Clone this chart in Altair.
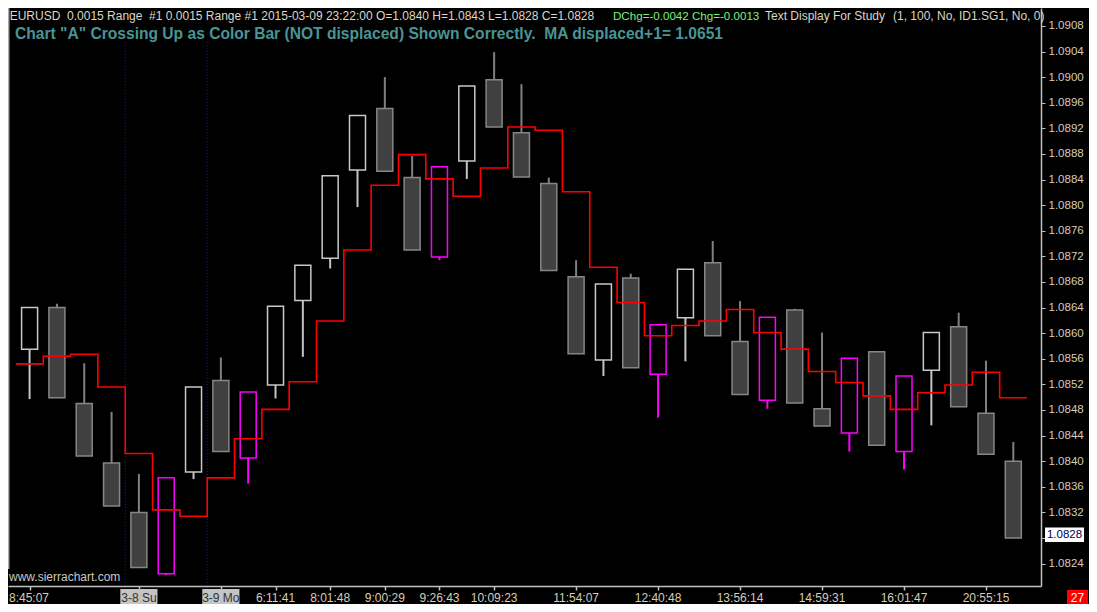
import altair as alt
import pandas as pd

# ---------------- data ----------------
opens = [1.08575, 1.08640, 1.08490, 1.08397, 1.08320, 1.08224, 1.08383, 1.08526, 1.08405, 1.08519,
         1.08651, 1.08717, 1.08855, 1.08951, 1.08843, 1.08719, 1.08869, 1.08996, 1.08913, 1.08834,
         1.08688, 1.08558, 1.08686, 1.08536, 1.08624, 1.08710, 1.08587, 1.08495, 1.08636, 1.08482,
         1.08444, 1.08571, 1.08415, 1.08542, 1.08610, 1.08475, 1.08400]
highs = [1.08641, 1.08646, 1.08553, 1.08477, 1.08380, 1.08374, 1.08516, 1.08562, 1.08508, 1.08642,
         1.08706, 1.08846, 1.08940, 1.09000, 1.08877, 1.08860, 1.08986, 1.09039, 1.08989, 1.08843,
         1.08714, 1.08677, 1.08693, 1.08613, 1.08700, 1.08744, 1.08650, 1.08625, 1.08638, 1.08601,
         1.08561, 1.08571, 1.08533, 1.08601, 1.08632, 1.08557, 1.08430]
lows = [1.08497, 1.08499, 1.08408, 1.08330, 1.08234, 1.08222, 1.08372, 1.08415, 1.08365, 1.08498,
        1.08563, 1.08701, 1.08797, 1.08853, 1.08730, 1.08714, 1.08841, 1.08922, 1.08844, 1.08698,
        1.08568, 1.08533, 1.08546, 1.08468, 1.08556, 1.08596, 1.08504, 1.08482, 1.08491, 1.08455,
        1.08415, 1.08425, 1.08387, 1.08456, 1.08485, 1.08411, 1.08280]
closes = [1.08640, 1.08499, 1.08408, 1.08330, 1.08234, 1.08374, 1.08516, 1.08415, 1.08508, 1.08642,
          1.08706, 1.08846, 1.08940, 1.08853, 1.08730, 1.08860, 1.08986, 1.08922, 1.08844, 1.08698,
          1.08568, 1.08677, 1.08546, 1.08613, 1.08700, 1.08596, 1.08504, 1.08625, 1.08491, 1.08455,
          1.08561, 1.08425, 1.08533, 1.08601, 1.08485, 1.08411, 1.08280]
ma_vals = [1.08552, 1.08564, 1.08567, 1.08516, 1.08412, 1.08324, 1.08314, 1.08374, 1.08435, 1.08481,
           1.08524, 1.08619, 1.08730, 1.08831, 1.08879, 1.08841, 1.08814, 1.08858, 1.08922, 1.08917,
           1.08821, 1.08703, 1.08648, 1.08596, 1.08612, 1.08619, 1.08637, 1.08601, 1.08575, 1.08540,
           1.08523, 1.08502, 1.08481, 1.08507, 1.08519, 1.08539, 1.08499]
cross_up = [5, 8, 15, 23, 27, 30, 32]
day_breaks = [3.5, 6.5]

tick_pos = [0, 4, 7, 9, 11, 13, 15, 17, 20, 23, 26, 29, 32, 35]
tick_labels = ["8:45:07", "3-8 Su", "3-9 Mo", "6:11:41", "8:01:48", "9:00:29", "9:26:43",
               "10:09:23", "11:54:07", "12:40:48", "13:56:14", "14:59:31", "16:01:47", "20:55:15"]
day_labels = ["3-8 Su", "3-9 Mo"]
price_ticks = [1.0824, 1.0828, 1.0832, 1.0836, 1.0840, 1.0844, 1.0848, 1.0852, 1.0856, 1.0860,
               1.0864, 1.0868, 1.0872, 1.0876, 1.0880, 1.0884, 1.0888, 1.0892, 1.0896, 1.0900,
               1.0904, 1.0908]
last_price = 1.0828

NB = "\u00a0"
header1 = "EURUSD" + NB + " 0.0015 Range" + NB + " #1 0.0015 Range #1 2015-03-09 23:22:00 O=1.0840 H=1.0843 L=1.0828 C=1.0828"
header1_green = "DChg=-0.0042 Chg=-0.0013"
header1_study = "Text Display For Study"
header1_args = "(1, 100, No, ID1.SG1, No, 0)"
header2 = 'Chart "A" Crossing Up as Color Bar (NOT displaced) Shown Correctly.' + NB + ' MA displaced+1= 1.0651'
last_price_label = "1.0828"
bar_count_label = "27"
watermark = "www.sierrachart.com"

# ---------------- tables ----------------
n = len(opens)
kinds = []
for i in range(n):
    if i in cross_up:
        kinds.append("cross")
    elif closes[i] > opens[i]:
        kinds.append("up")
    else:
        kinds.append("down")
bars = pd.DataFrame({"i": list(range(n)), "open": opens, "high": highs, "low": lows,
                     "close": closes, "kind": kinds})
ma_df = pd.DataFrame({"xm": [i - 0.5 for i in range(n)] + [n - 0.5],
                      "ma": ma_vals + [ma_vals[-1]]})
ticks_df = pd.DataFrame({"pos": tick_pos, "label": tick_labels})
breaks_df = pd.DataFrame({"b": day_breaks})
one = pd.DataFrame({"k": [0]})

# ---------------- layout ----------------
W, H = 1033, 578
FONT = "Liberation Sans"
TAN = "#d8ccb8"
AXC = "#c0c0c0"

XS = alt.Scale(domain=[-0.607, 36.83], nice=False, zero=False)
YS = alt.Scale(domain=[1.08205, 1.09108], nice=False, zero=False)
X_AXIS = alt.Axis(values=tick_pos, labels=False, tickSize=4, title=None, grid=False,
                  domainColor=AXC, tickColor=AXC, domainWidth=1.5, tickWidth=1.5, zindex=1)
Y_AXIS = alt.Axis(orient="right", values=price_ticks, format=".4f", title=None, grid=False,
                  labelExpr=f"abs(datum.value - {last_price}) < 0.00001 ? '' : datum.label",
                  labelColor=TAN, labelFont=FONT, labelFontSize=11.5, tickSize=4, labelPadding=3,
                  domainColor=AXC, tickColor=AXC, domainWidth=1.5, labelOverlap=False,
                  labelBound=False, labelFlush=False)

kind_dom = ["up", "down", "cross"]
wick_col = alt.Color("kind:N", scale=alt.Scale(domain=kind_dom, range=["#c4c4c4", "#808080", "#ff00ff"]), legend=None)
fill_col = alt.Fill("kind:N", scale=alt.Scale(domain=kind_dom, range=["#000000", "#404040", "#000000"]), legend=None)
stroke_col = alt.Stroke("kind:N", scale=alt.Scale(domain=kind_dom, range=["#c8c8c8", "#868686", "#ff00ff"]), legend=None)

left_border = alt.Chart(one).mark_rule(color="#a8a8a8", strokeWidth=1.5).encode(
    x=alt.value(0.75), y=alt.value(0), y2=alt.value(561))

seps = alt.Chart(breaks_df).mark_rule(color="#1818b0", strokeDash=[1, 2], strokeWidth=1).encode(
    x=alt.X("b:Q", scale=XS, axis=X_AXIS), y=alt.value(34), y2=alt.value(H))

wicks = alt.Chart(bars).mark_rule(strokeWidth=2).encode(
    x=alt.X("i:Q", scale=XS, axis=X_AXIS),
    y=alt.Y("low:Q", scale=YS, axis=Y_AXIS), y2="high:Q",
    color=wick_col)

bodies = alt.Chart(bars).mark_bar(size=16, strokeWidth=1.5).encode(
    x=alt.X("i:Q", scale=XS, axis=X_AXIS),
    y=alt.Y("open:Q", scale=YS, axis=Y_AXIS), y2="close:Q",
    fill=fill_col, stroke=stroke_col)

ma_line = alt.Chart(ma_df).mark_line(interpolate="step-after", color="#ff0000", strokeWidth=1.6).encode(
    x=alt.X("xm:Q", scale=XS, axis=X_AXIS),
    y=alt.Y("ma:Q", scale=YS, axis=Y_AXIS))

def txt(text, x, y, color, size, weight="normal", align="left", baseline="alphabetic"):
    return alt.Chart(one).mark_text(
        text=text, align=align, baseline=baseline, font=FONT, fontSize=size,
        fontWeight=weight, color=color).encode(x=alt.value(x), y=alt.value(y))

h1 = txt(header1, 1.7, 12, "#ddd5c6", 12)
h1g = txt(header1_green, 605, 12, "#7cf07c", 11.6)
h1s = txt(header1_study, 757, 12, "#ddd5c6", 12)
h1a = txt(header1_args, 885, 12, "#ddd5c6", 12)
h2 = txt(header2, 7, 30.5, "#4a9494", 15.6, weight="bold")
wm = txt(watermark, 1, 569, "#c8c8c8", 12, baseline="middle")

# bottom time labels
day_boxes = alt.Chart(ticks_df).transform_filter(
    alt.FieldOneOfPredicate(field="label", oneOf=day_labels)
).transform_calculate(x1="datum.pos - 0.68", x2="datum.pos + 0.68").mark_rect(color="#c4c4c4").encode(
    x=alt.X("x1:Q", scale=XS, axis=X_AXIS), x2="x2:Q",
    y=alt.value(H + 3), y2=alt.value(H + 18))

time_labels = alt.Chart(ticks_df).transform_filter("datum.pos > 0").mark_text(
    font=FONT, fontSize=12, baseline="middle", align="center").encode(
    x=alt.X("pos:Q", scale=XS, axis=X_AXIS), y=alt.value(H + 11.5), text="label:N",
    color=alt.condition(alt.FieldOneOfPredicate(field="label", oneOf=day_labels),
                        alt.value("#333333"), alt.value(TAN)))

first_label = alt.Chart(ticks_df).transform_filter("datum.pos == 0").mark_text(
    font=FONT, fontSize=12, baseline="middle", align="left", color=TAN).encode(
    x=alt.value(1), y=alt.value(H + 11.5), text="label:N")

# last price box on the right axis
price_box = alt.Chart(one).mark_rect(color="#ffffff").encode(
    x=alt.value(W + 4), x2=alt.value(W + 43), y=alt.value(519.5), y2=alt.value(534))
price_txt = txt(last_price_label, W + 23.5, 527, "#000050", 11.5, align="center", baseline="middle")

count_box = alt.Chart(one).mark_rect(color="#ff0000").encode(
    x=alt.value(1059), x2=alt.value(1080), y=alt.value(582), y2=alt.value(596))
count_txt = txt(bar_count_label, 1069.5, 589.5, "#ffffff", 12, align="center", baseline="middle")

chart = alt.layer(
    left_border, seps, wicks, bodies, ma_line,
    h1, h1g, h1s, h1a, h2, wm,
    day_boxes, time_labels, first_label,
    price_box, price_txt, count_box, count_txt
).properties(
    width=W, height=H,
    autosize=alt.AutoSizeParams(type="none"),
    padding={"left": 0, "top": 0, "right": 48, "bottom": 18},
    background="#000000"
).configure_view(stroke=None)

chart.save("out.html", embed_options={"renderer": "svg", "actions": False})
